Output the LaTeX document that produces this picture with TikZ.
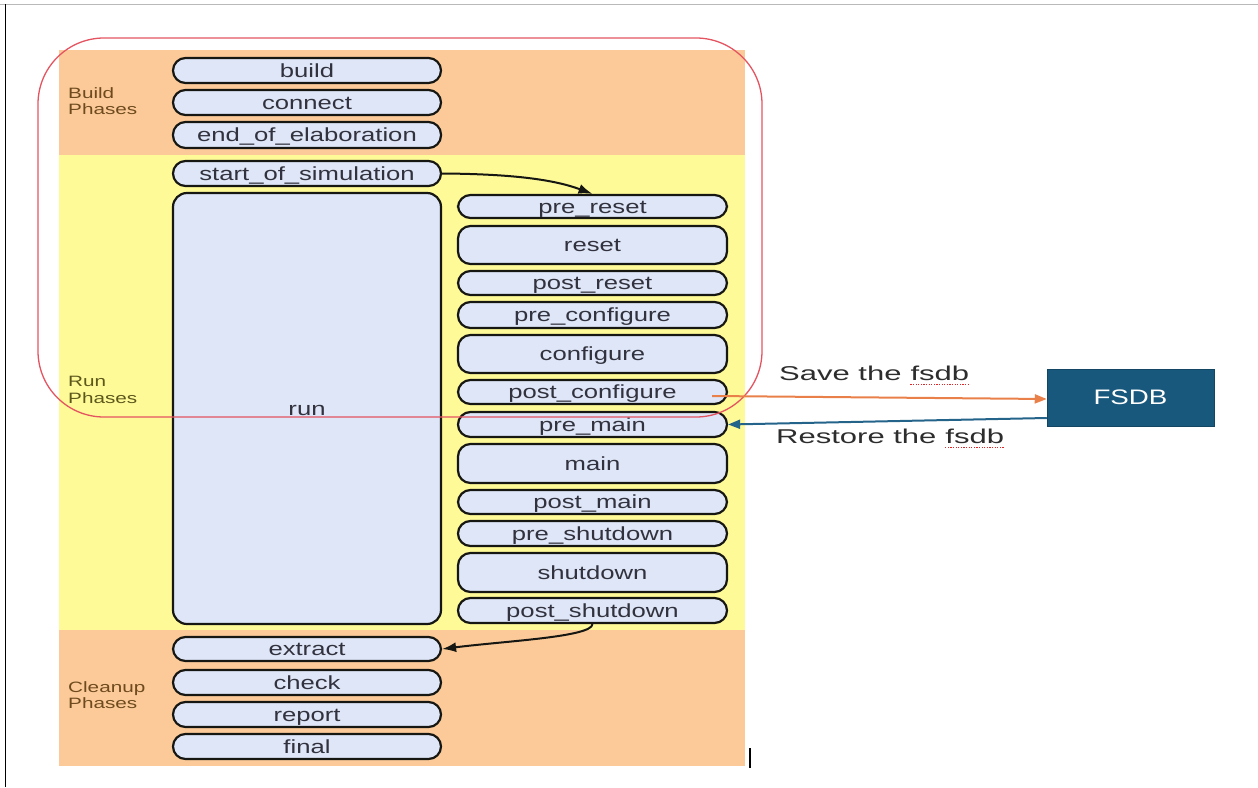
\documentclass[tikz,border=0pt]{standalone}
\usepackage{fontspec}
\setmainfont{Liberation Sans}
\usetikzlibrary{arrows.meta}

\definecolor{buildbg}{RGB}{251,202,152}
\definecolor{runbg}{RGB}{255,250,152}
\definecolor{boxfill}{RGB}{222,230,247}
\definecolor{boxline}{RGB}{22,22,18}
\definecolor{boxtext}{RGB}{50,50,62}
\definecolor{orangelbl}{RGB}{110,74,30}
\definecolor{yellowlbl}{RGB}{92,88,28}
\definecolor{frameRed}{RGB}{228,84,96}
\definecolor{saveCol}{RGB}{233,128,74}
\definecolor{restoreCol}{RGB}{36,100,138}
\definecolor{fsdbCol}{RGB}{24,88,124}
\definecolor{noteText}{RGB}{45,45,45}
\definecolor{spellRed}{RGB}{220,40,40}

% horizontally widened text
\newcommand{\wtext}[2][1.35]{\scalebox{#1}[1]{#2}}

\newcommand{\boxfont}{\fontsize{19}{22}\selectfont}
\newcommand{\lblfont}{\fontsize{15}{17.5}\selectfont}
\newcommand{\notefont}{\fontsize{20}{24}\selectfont}

\tikzset{
  phasebox/.style={draw=boxline, line width=2.2pt, fill=boxfill,
    rounded corners=12.5pt, minimum width=268pt, inner sep=0pt,
    text=boxtext, font=\boxfont, text height=13.7pt, text depth=0pt},
  rightbox/.style={phasebox, minimum width=269pt},
  grouplbl/.style={font=\lblfont, align=left, anchor=west, inner sep=0pt},
  flow/.style={draw=boxline, line width=2pt, -{Latex[length=14pt,width=10pt]}},
  notearrow/.style={line width=2pt, -{Triangle[length=12pt,width=9pt]}},
  notetext/.style={anchor=base west, inner sep=0pt, font=\notefont, text=noteText},
  spellline/.style={draw=spellRed, line width=1.1pt, dash pattern=on 1.2pt off 1.4pt},
}

\begin{document}
\begin{tikzpicture}[x=1pt,y=-1pt]
\useasboundingbox (0,0) rectangle (1258,787);

% page edges
\draw[gray!55, line width=1pt] (0,4) -- (1258,4);
\draw[black, line width=1pt] (5,4) -- (5,787);

% phase group backgrounds
\fill[buildbg] (59,50) rectangle (745,155);
\fill[runbg] (59,155) rectangle (745,630);
\fill[buildbg] (59,630) rectangle (745,766);

% group labels
\node[grouplbl, text=orangelbl] (lblbuild) at (68,101) {\wtext[1.38]{Build}\\[-1pt]\wtext[1.38]{Phases}};
\node[grouplbl, text=yellowlbl] (lblrun) at (68,390) {\wtext[1.38]{Run}\\[-1pt]\wtext[1.38]{Phases}};
\node[grouplbl, text=orangelbl] (lblclean) at (68,695) {\wtext[1.38]{Cleanup}\\[-1pt]\wtext[1.38]{Phases}};

% build phases
\node[phasebox, minimum height=25pt] (build)   at (307,70.5)  {\wtext{build}};
\node[phasebox, minimum height=25pt] (connect) at (307,102.5) {\wtext{connect}};
\node[phasebox, minimum height=26pt] (eoe)     at (307,135)   {\wtext{end\_of\_elaboration}};

% run phases
\node[phasebox, minimum height=25pt] (sos) at (307,173.5) {\wtext{start\_of\_simulation}};
\node[phasebox, minimum height=431pt, rounded corners=14pt] (run) at (307,408.5) {\wtext{run}};

\node[rightbox, minimum height=23pt] (prereset)      at (592.5,206.5) {\wtext{pre\_reset}};
\node[rightbox, minimum height=38pt] (reset)         at (592.5,245)   {\wtext{reset}};
\node[rightbox, minimum height=24pt] (postreset)     at (592.5,283)   {\wtext{post\_reset}};
\node[rightbox, minimum height=26pt] (preconfigure)  at (592.5,315)   {\wtext{pre\_configure}};
\node[rightbox, minimum height=38pt] (configure)     at (592.5,354)   {\wtext{configure}};
\node[rightbox, minimum height=24pt] (postconfigure) at (592.5,392)   {\wtext{post\_configure}};
\node[rightbox, minimum height=25pt] (premain)       at (592.5,424.5) {\wtext{pre\_main}};
\node[rightbox, minimum height=39pt] (main)          at (592.5,463.5) {\wtext{main}};
\node[rightbox, minimum height=24pt] (postmain)      at (592.5,502)   {\wtext{post\_main}};
\node[rightbox, minimum height=25pt] (preshutdown)   at (592.5,533.5) {\wtext{pre\_shutdown}};
\node[rightbox, minimum height=39pt] (shutdown)      at (592.5,572.5) {\wtext{shutdown}};
\node[rightbox, minimum height=25pt] (postshutdown)  at (592.5,610.5) {\wtext{post\_shutdown}};

% cleanup phases
\node[phasebox, minimum height=24pt] (extract) at (307,649)   {\wtext{extract}};
\node[phasebox, minimum height=25pt] (check)   at (307,682.5) {\wtext{check}};
\node[phasebox, minimum height=25pt] (report)  at (307,714.5) {\wtext{report}};
\node[phasebox, minimum height=25pt] (final)   at (307,746.5) {\wtext{final}};

% phase flow arrows
\draw[flow] (sos.east) .. controls (515,174) and (555,180) .. (prereset.north);
\draw[flow] (postshutdown.south) .. controls (592,637) and (505,641) .. (extract.east);

% outline around the build and early run phases
\draw[frameRed, line width=1.3pt, rounded corners=66pt] (38,38) rectangle (762,417);

% fsdb storage
\node[fill=fsdbCol, draw=fsdbCol!80!black, line width=0.5pt, minimum width=167pt, minimum height=57pt,
      text=white, font=\fontsize{21}{24}\selectfont, inner sep=0pt] (fsdb) at (1130.5,397.5) {\wtext[1.32]{FSDB}};

\coordinate (savefrom) at (712,396);
\draw[notearrow, draw=saveCol, fill=saveCol] (savefrom) -- ([yshift=-1.5pt]fsdb.west);
\draw[notearrow, draw=restoreCol, fill=restoreCol] ([yshift=-20.5pt]fsdb.west) -- (premain.east);

% save / restore notes, with the underlined word set apart
\node[notetext] (savelbl) at (779,380) {\wtext[1.55]{Save the\ }};
\node[notetext] (saveword) at (savelbl.base east) {\wtext[1.55]{fsdb}};
\node[notetext] (restorelbl) at (776,443) {\wtext[1.55]{Restore the\ }};
\node[notetext] (restoreword) at (restorelbl.base east) {\wtext[1.55]{fsdb}};
\draw[spellline] ([yshift=-4.5pt]saveword.base west) -- ([yshift=-4.5pt]saveword.base east);
\draw[spellline] ([yshift=-4.5pt]restoreword.base west) -- ([yshift=-4.5pt]restoreword.base east);

% stray mark at the bottom
\draw[black, line width=1.5pt] (750,748) -- (750,768);
\end{tikzpicture}
\end{document}
